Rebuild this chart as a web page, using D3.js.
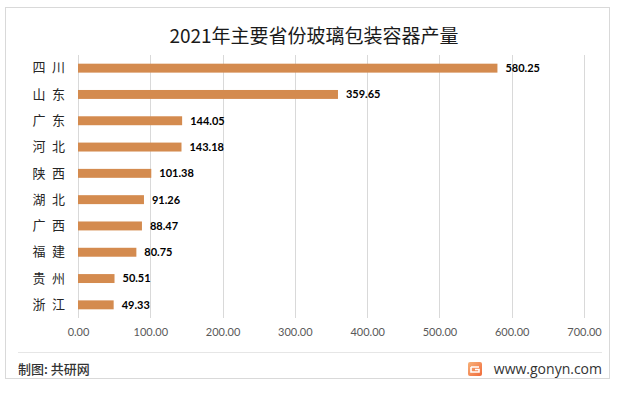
<!DOCTYPE html>
<html lang="zh">
<head>
<meta charset="utf-8">
<title>2021年主要省份玻璃包装容器产量</title>
<script src="https://cdnjs.cloudflare.com/ajax/libs/d3/7.8.5/d3.min.js"></script>
<style>
body { margin: 0; background: #fff; }
svg { display: block; }
.grid line { stroke: #d9d9d9; stroke-width: 1px; }
.x.axis text { fill: #595959; font-family: Lato, "Noto Sans", sans-serif; font-size: 11px; }
.y.axis text { fill: #262626; font-family: "Noto Sans CJK SC", sans-serif; font-size: 13px; }
.bar { fill: #d48b4f; }
.value { font-family: Lato, "Noto Sans", sans-serif; font-size: 11px; font-weight: bold; fill: #000; }
</style>
</head>
<body>
<script>

var provinces = ["四 川", "山 东", "广 东", "河 北", "陕 西", "湖 北", "广 西", "福 建", "贵 州", "浙 江"];
var output = [580.25, 359.65, 144.05, 143.18, 101.38, 91.26, 88.47, 80.75, 50.51, 49.33];
var xTicks = [0, 100, 200, 300, 400, 500, 600, 700];

var W = 623, H = 393;
var margin = { top: 55, left: 78, right: 38, bottom: 75 },
    width = 584 - margin.left,
    height = 318 - margin.top;

var svg = d3.select("body").append("svg")
    .attr("width", W)
    .attr("height", H);

// outer frame
svg.append("rect")
    .attr("x", 5.5).attr("y", 7.5)
    .attr("width", 604).attr("height", 371)
    .attr("fill", "#fff")
    .attr("stroke", "#d9d9d9");

svg.append("text")
    .attr("x", 314)
    .attr("y", 43)
    .attr("text-anchor", "middle")
    .style("font-family", "'Noto Sans CJK SC', sans-serif")
    .style("font-size", "19px")
    .style("fill", "#1a1a1a")
    .text("2021年主要省份玻璃包装容器产量");

var g = svg.append("g")
    .attr("transform", "translate(" + margin.left + "," + margin.top + ")");

var x = d3.scaleLinear()
    .domain([0, 700])
    .range([0, width]);

var y = d3.scaleBand()
    .domain(provinces)
    .range([0, height])
    .paddingInner(0.66)
    .paddingOuter(0.33);

// vertical gridlines
g.append("g")
    .attr("class", "grid")
  .selectAll("line")
    .data(xTicks)
  .enter().append("line")
    .attr("x1", function(d) { return Math.round(x(d)) + 0.5; })
    .attr("x2", function(d) { return Math.round(x(d)) + 0.5; })
    .attr("y1", 0)
    .attr("y2", height);

g.append("g")
    .attr("class", "x axis")
    .attr("transform", "translate(0," + height + ")")
    .call(d3.axisBottom(x).tickValues(xTicks).tickSize(0).tickPadding(10)
      .tickFormat(d3.format(".2f")))
    .call(function(s) { s.select(".domain").remove(); });

// wider gap between the two characters, as in the original
g.append("g")
    .attr("class", "y axis")
    .call(d3.axisLeft(y).tickSize(0).tickPadding(13)
      .tickFormat(function(d) { return d.replace(" ", "\u2002"); }))
    .call(function(s) { s.select(".domain").remove(); });

var data = provinces.map(function(p, i) { return { name: p, value: output[i] }; });

g.selectAll(".bar")
    .data(data)
  .enter().append("rect")
    .attr("class", "bar")
    .attr("x", x(0))
    .attr("y", function(d) { return y(d.name); })
    .attr("width", function(d) { return x(d.value) - x(0); })
    .attr("height", y.bandwidth());

g.selectAll(".value")
    .data(data)
  .enter().append("text")
    .attr("class", "value")
    .attr("x", function(d) { return x(d.value) + 8; })
    .attr("y", function(d) { return y(d.name) + y.bandwidth() / 2; })
    .attr("dy", "0.35em")
    .text(function(d) { return d.value.toFixed(2); });

// footer
svg.append("line")
    .attr("x1", 18).attr("x2", 602)
    .attr("y1", 352.5).attr("y2", 352.5)
    .attr("stroke", "#e6e6e6");

svg.append("text")
    .attr("x", 18)
    .attr("y", 374)
    .style("font-family", "'Noto Sans CJK SC', sans-serif")
    .style("font-size", "13px")
    .style("font-weight", "500")
    .style("fill", "#333")
    .text("制图: 共研网");

var grad = svg.append("defs").append("linearGradient")
    .attr("id", "logo").attr("x1", 0).attr("y1", 0).attr("x2", 1).attr("y2", 1);
grad.append("stop").attr("offset", "0%").attr("stop-color", "#f7b27a");
grad.append("stop").attr("offset", "100%").attr("stop-color", "#f06a3a");

var logo = svg.append("g").attr("transform", "translate(468,362)");
logo.append("rect").attr("width", 14).attr("height", 14).attr("rx", 2).attr("fill", "url(#logo)");
logo.append("path")
    .attr("d", "M3,5 H11 M3,5 V10 H11 V7.5 H7")
    .attr("fill", "none")
    .attr("stroke", "#fff")
    .attr("stroke-width", 1.6);

svg.append("text")
    .attr("x", 602)
    .attr("y", 374)
    .attr("text-anchor", "end")
    .style("font-family", "'Open Sans', 'Noto Sans', sans-serif")
    .style("font-size", "14px")
    .style("fill", "#333")
    .text("www.gonyn.com");

</script>
</body>
</html>
